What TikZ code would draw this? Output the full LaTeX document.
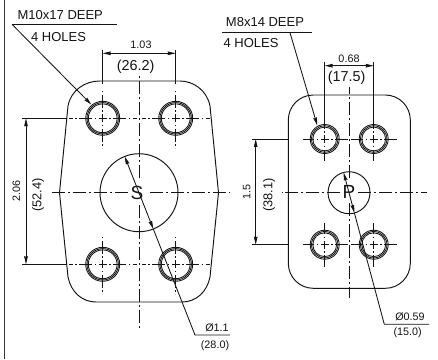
\documentclass[tikz,border=0pt]{standalone}
\usepackage{fontspec}
\setmainfont{Liberation Sans}
\usetikzlibrary{arrows.meta}
\definecolor{ink}{HTML}{141414}
\tikzset{
  x=1pt,y=-1pt,
  ln/.style={draw=ink,line width=0.95pt},
  thin ln/.style={draw=ink,line width=0.85pt},
  cl/.style={draw=ink,line width=0.8pt,dash pattern=on 4pt off 2.5pt on 1.5pt off 2.5pt on 13pt off 2.5pt on 1.5pt off 2.5pt},
  cll/.style={draw=ink,line width=0.8pt,dash pattern=on 13pt off 3pt on 2pt off 3pt},
  tip/.style={-{Stealth[length=8pt,width=3.6pt,inset=0.5pt]}},
  tips/.style={{Stealth[length=8pt,width=3.6pt,inset=0.5pt]}-{Stealth[length=8pt,width=3.6pt,inset=0.5pt]}},
  big/.style={font=\fontsize{13}{13}\selectfont,text=ink,inner sep=0pt},
  mid/.style={font=\fontsize{14.4}{14}\selectfont,text=ink,inner sep=0pt},
  small/.style={font=\fontsize{10.8}{11}\selectfont,text=ink,inner sep=0pt},
  vmid/.style={font=\fontsize{12.8}{13}\selectfont,text=ink,inner sep=0pt},
  port/.style={font=\fontsize{19}{19}\selectfont,text=ink,inner sep=0pt},
  ring/.style={draw=ink,line width=0.85pt},
}
\newcommand{\holeat}[2]{%
  \draw[ring] (#1) circle[radius=#2];
  \draw[ring] (#1) circle[radius=#2-1.3];
  \draw[ring] (#1) circle[radius=#2-2.6];
}
\begin{document}
\begin{tikzpicture}
\useasboundingbox (0,0) rectangle (438,359);
\fill[white] (0,0) rectangle (438,359);
% frame edge
\coordinate (ft) at (4.3,0); \coordinate (fb) at (4.3,359);
\draw[draw=ink!85,line width=1.4pt] (ft) -- (fb);

% ---------- left flange
\coordinate (A1) at (102.7,118.3); \coordinate (A2) at (175.7,118.3);
\coordinate (A3) at (102.7,264.3); \coordinate (A4) at (175.7,264.3);
\coordinate (AC) at (139,192.7);
\draw[ln] (100,81) -- (180,81) .. controls (193,81) and (207,90) .. (210,106)
  -- (218.5,192.7) -- (210,277) .. controls (207,292) and (196,302) .. (182,302)
  -- (96,302) .. controls (82,302) and (71,292) .. (68,277)
  -- (59.5,192.7) -- (68,106) .. controls (71,90) and (85,81) .. (100,81) -- cycle;
\draw[ln] (AC) circle[radius=39];
\foreach \n in {A1,A2,A3,A4}{\holeat{\n}{17}}
\foreach \n in {A1,A3}{
  \draw[cl] (\n) -- ++(-35,0);
  \draw[cl] (\n) -- ++(36,0);
}
\foreach \n in {A2,A4}{
  \draw[cl] (\n) -- ++(35,0);
  \draw[cl] (\n) -- ++(-36,0);
}
\foreach \n in {A1,A2,A3,A4}{
  \draw[cl] (\n) -- ++(0,30);
  \draw[cl] (\n) -- ++(0,-30);
}
\draw[cll] (139,178) -- (139,75);
\draw[cll] (139,205) -- (139,328);
\draw[cll] (128,192.7) -- (50,192.7);
\draw[cll] (150,192.7) -- (230,192.7);
\node[port] (ps) at (137,192.7) {S};
\coordinate (a1t) at (102.7,50); \coordinate (a1b) at (102.7,84);
\coordinate (a2t) at (175.7,50); \coordinate (a2b) at (175.7,84);
\draw[thin ln] (a1t) -- (a1b); \draw[thin ln] (a2t) -- (a2b);
\draw[thin ln,tips] (102.7,53.3) -- (175.7,53.3);
\coordinate (b1) at (22,118.3); \coordinate (b1e) at (67,118.3);
\coordinate (b2) at (22,264.3); \coordinate (b2e) at (67,264.3);
\draw[thin ln] (b1) -- (b1e); \draw[thin ln] (b2) -- (b2e);
\draw[thin ln,tips] (26,118.3) -- (26,264.3);
\node[small] (t103) at (141,45.2) {1.03};
\node[mid] (t262) at (135.7,66.5) {(26.2)};
\node[small,rotate=90] (t206) at (16.5,191) {2.06};
\node[vmid,rotate=90] (t524) at (38,195) {(52.4)};
\coordinate (l1a) at (117,24.3); \coordinate (l1b) at (12,24.3);
\draw[thin ln] (l1a) -- (l1b);
\draw[thin ln,tip] (l1b) -- (91.4,104.6);
\node[big] (m10) at (60.3,14.6) {M10x17 DEEP};
\node[big] (h4a) at (58.5,37.3) {4 HOLES};
\coordinate (d1a) at (124.7,156.4); \coordinate (d1b) at (153.3,229);
\coordinate (d1c) at (195,335); \coordinate (d1d) at (230,335);
\draw[thin ln,tips] (d1a) -- (d1b);
\draw[thin ln] (d1b) -- (d1c) -- (d1d);
\node[small] (dia1) at (217,327.5) {Ø1.1};
\node[small] (dia1m) at (215,345.7) {(28.0)};

% ---------- right flange
\coordinate (B1) at (324.7,139); \coordinate (B2) at (373.7,139);
\coordinate (B3) at (324.7,244.7); \coordinate (B4) at (373.7,244.7);
\coordinate (BC) at (349,192.7);
\draw[ln,rounded corners=25pt] (288.3,95) rectangle (410.3,288.3);
\draw[ln] (BC) circle[radius=21];
\foreach \n in {B1,B2,B3,B4}{\holeat{\n}{14.5}}
\foreach \n in {B1,B3}{
  \draw[cl] (\n) -- ++(-22,0);
  \draw[cl] (\n) -- ++(23,0);
}
\foreach \n in {B2,B4}{
  \draw[cl] (\n) -- ++(23,0);
  \draw[cl] (\n) -- ++(-23,0);
}
\foreach \n in {B1,B2,B3,B4}{
  \draw[cl] (\n) -- ++(0,22);
  \draw[cl] (\n) -- ++(0,-22);
}
\draw[cll] (349,178) -- (349,87);
\draw[cll] (349,203) -- (349,298);
\draw[cll] (340,192.7) -- (281.7,192.7);
\draw[cll] (358,192.7) -- (426.7,192.7);
\node[port] (pp) at (349,192.2) {P};
\coordinate (c1t) at (324.7,62); \coordinate (c1b) at (324.7,117);
\coordinate (c2t) at (373.7,62); \coordinate (c2b) at (373.7,117);
\draw[thin ln] (c1t) -- (c1b); \draw[thin ln] (c2t) -- (c2b);
\draw[thin ln,tips] (324.7,65.7) -- (373.7,65.7);
\coordinate (e1) at (251.7,139); \coordinate (e1e) at (288.3,139);
\coordinate (e2) at (251.7,244.7); \coordinate (e2e) at (288.3,244.7);
\draw[thin ln] (e1) -- (e1e); \draw[thin ln] (e2) -- (e2e);
\draw[thin ln,tips] (255.7,139) -- (255.7,244.7);
\node[small] (t068) at (349,58.3) {0.68};
\node[mid] (t175) at (346.7,77.5) {(17.5)};
\node[small,rotate=90] (t15) at (246.7,191.7) {1.5};
\node[vmid,rotate=90] (t381) at (269,195) {(38.1)};
\coordinate (l2a) at (311.7,32.7); \coordinate (l2b) at (221.7,32.7); \coordinate (l2c) at (290,32.7);
\draw[thin ln] (l2a) -- (l2b);
\draw[thin ln,tip] (l2c) -- (317.3,125.5);
\node[big] (m8) at (265,22) {M8x14 DEEP};
\node[big] (h4b) at (251,43) {4 HOLES};
\coordinate (d2a) at (343.6,172.4); \coordinate (d2b) at (354.4,213);
\coordinate (d2c) at (384.3,324.3); \coordinate (d2d) at (429,324.3);
\draw[thin ln,tips] (d2a) -- (d2b);
\draw[thin ln] (d2b) -- (d2c) -- (d2d);
\node[small] (dia2) at (410,316.7) {Ø0.59};
\node[small] (dia2m) at (407.7,332.3) {(15.0)};
\end{tikzpicture}
\end{document}
